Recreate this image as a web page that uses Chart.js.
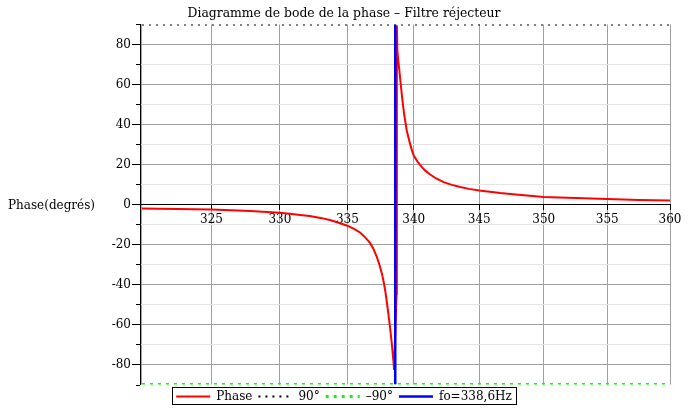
<!DOCTYPE html>
<html>
<head>
<meta charset="utf-8">
<script src="https://cdn.jsdelivr.net/npm/chart.js@4.4.1/dist/chart.umd.min.js"></script>
<style>
  html, body { margin: 0; padding: 0; background: #fff; }
</style>
</head>
<body>
<canvas id="bode" width="688" height="417"></canvas>
<script>
// Phase curve (Hz, degrees)
const phaseFreq = [320, 322.5, 325, 327.8, 330, 330.7, 331.5, 332.2, 333.0, 333.7, 334.3, 335, 335.5, 335.95, 336.3, 336.7, 336.95,
                   337.2, 337.4, 337.6, 337.75, 337.88, 337.98, 338.08, 338.17, 338.26, 338.34, 338.41, 338.47, 338.51,
                   338.7, 338.72, 338.76, 338.83, 338.91, 339.0, 339.09, 339.18, 339.27, 339.37, 339.47, 339.6, 339.72, 339.85,
                   340, 340.3, 340.62, 340.9, 341.25, 341.7, 342.27, 342.9, 343.55, 344.2, 345, 346.63, 347.6, 348.7, 350,
                   352.5, 355, 357.5, 360];
const phaseDeg = [-2.0, -2.2, -2.5, -3.2, -4.1, -4.6, -5.2, -5.8, -6.7, -7.8, -9.0, -10.6, -12.2, -14.0, -16.2, -19.2, -22.1,
                  -26.0, -30.0, -34.7, -39.5, -44.7, -49.5, -54.7, -59.5, -64.7, -69.5, -74.7, -79.0, -82.7,
                  -44.7, 89.5, 77, 72, 67, 61, 55.3, 50, 45.3, 41, 37, 33.5, 30.3, 27.3,
                  24.5, 21.3, 18.7, 16.8, 15, 13, 11.2, 9.8, 8.7, 7.8, 7, 5.7, 5.1, 4.5, 3.8,
                  3.2, 2.7, 2.3, 2.0];

// reference lines
const limitFreq = [320, 360];
const plus90 = [90, 90];
const minus90 = [-90, -90];
const f0 = 338.6;
const f0Phase = [-90, 90];

const freqMin = 319.86;
const freqMax = 360;
const freqTicks = [320, 325, 330, 335, 340, 345, 350, 355, 360];

const toPoints = (xs, ys) => xs.map((x, i) => ({x: x, y: ys[i]}));

Chart.defaults.font.family = 'DejaVu Serif';
Chart.defaults.font.size = 12;
Chart.defaults.color = '#000';

// small ticks on the y axis, the legend frame and the horizontal y title
const extras = {
    id: 'extras',
    afterDraw(chart) {
        const ctx = chart.ctx;
        const y = chart.scales.y;
        const left = chart.chartArea.left;
        ctx.save();
        ctx.strokeStyle = '#000';
        ctx.lineWidth = 1;
        y.ticks.forEach(t => {
            if (t.value % 20 !== 0) {
                const py = Math.round(y.getPixelForValue(t.value)) + 0.5;
                ctx.beginPath();
                ctx.moveTo(left - 4, py);
                ctx.lineTo(left, py);
                ctx.stroke();
            }
        });
        const hb = chart.legend.legendHitBoxes;
        if (hb.length) {
            const first = hb[0], last = hb[hb.length - 1];
            const x1 = Math.round(first.left - 4) + 0.5;
            const x2 = Math.round(last.left + last.width + 4) + 0.5;
            const y1 = Math.round(first.top - 4) + 0.5;
            const y2 = Math.round(first.top + first.height + 1) + 0.5;
            ctx.strokeRect(x1, y1, x2 - x1, y2 - y1);
        }
        ctx.fillStyle = '#000';
        ctx.font = '12px "DejaVu Serif"';
        ctx.textAlign = 'left';
        ctx.textBaseline = 'middle';
        ctx.fillText('Phase(degrés)', 8, y.getPixelForValue(0) + 1);
        ctx.restore();
    }
};

const bodeChart = new Chart(
    document.getElementById('bode'),
    {
        type: 'scatter',
        data: {
            datasets: [{
                label: 'Phase',
                data: toPoints(phaseFreq, phaseDeg),
                showLine: true,
                borderColor: '#ff0000',
                backgroundColor: '#ff0000',
                borderWidth: 2,
                pointRadius: 0,
                order: 2
            }, {
                label: '90°',
                data: toPoints(limitFreq, plus90),
                showLine: true,
                borderColor: '#000000',
                backgroundColor: '#000000',
                borderWidth: 2,
                borderDash: [2, 5],
                pointRadius: 0,
                order: 1
            }, {
                label: '–90°',
                data: toPoints(limitFreq, minus90),
                showLine: true,
                borderColor: '#00ff00',
                backgroundColor: '#00ff00',
                borderWidth: 3,
                borderDash: [3, 5],
                pointRadius: 0,
                order: 1
            }, {
                label: 'fo=338,6Hz',
                data: toPoints([f0, f0], f0Phase),
                showLine: true,
                borderColor: '#0000ff',
                backgroundColor: '#0000ff',
                borderWidth: 2.5,
                pointRadius: 0,
                order: 0
            }]
        },
        options: {
            responsive: false,
            animation: false,
            layout: {padding: {left: 0, right: 0, top: 0, bottom: 4.5}},
            scales: {
                x: {
                    type: 'logarithmic',
                    min: freqMin,
                    max: freqMax,
                    position: {y: 0},
                    afterBuildTicks: s => { s.ticks = freqTicks.map(v => ({value: v})); },
                    afterFit: s => { s.height = 0; },
                    ticks: {
                        autoSkip: false,
                        maxRotation: 0,
                        padding: 3,
                        callback: v => v === 320 ? '' : String(v)
                    },
                    grid: {
                        color: '#a0a0a0',
                        tickColor: c => (c.tick && c.tick.value === 320) ? 'rgba(0,0,0,0)' : '#000',
                        tickLength: 5
                    },
                    border: {color: '#000', width: 1}
                },
                y: {
                    type: 'linear',
                    min: -90,
                    max: 90,
                    afterFit: s => { s.width = 140; },
                    ticks: {
                        stepSize: 10,
                        padding: 1,
                        callback: v => (v % 20 === 0 && Math.abs(v) < 90) ? String(v) : ''
                    },
                    grid: {
                        color: c => {
                            const v = c.tick.value;
                            if (Math.abs(v) === 90) return 'rgba(0,0,0,0)';
                            return v % 20 === 0 ? '#a0a0a0' : '#e4e4e4';
                        },
                        tickColor: c => c.tick.value % 20 === 0 ? '#000' : 'rgba(0,0,0,0)',
                        tickLength: 8
                    },
                    border: {color: '#000', width: 1}
                },
                // empty margin on the right so title and legend stay centred on the page
                yRight: {
                    type: 'linear',
                    position: 'right',
                    min: -90,
                    max: 90,
                    afterFit: s => { s.width = 18; },
                    ticks: {display: false},
                    grid: {display: false},
                    border: {display: false}
                }
            },
            plugins: {
                title: {
                    display: true,
                    text: 'Diagramme de bode de la phase – Filtre réjecteur',
                    color: '#000',
                    font: {size: 12.4, weight: 'normal'},
                    padding: {top: 6, bottom: 3.6}
                },
                legend: {
                    position: 'bottom',
                    labels: {
                        usePointStyle: true,
                        pointStyle: 'line',
                        pointStyleWidth: 34,
                        padding: 6,
                        color: '#000',
                        sort: (a, b) => a.datasetIndex - b.datasetIndex,
                        generateLabels: chart => {
                            const items = Chart.defaults.plugins.legend.labels.generateLabels(chart);
                            items.forEach(it => {
                                const ds = chart.data.datasets[it.datasetIndex];
                                it.lineDash = ds.borderDash || [];
                                it.lineWidth = ds.borderWidth;
                            });
                            return items;
                        }
                    }
                },
                tooltip: {enabled: false}
            }
        },
        plugins: [extras]
    }
);
</script>
</body>
</html>
